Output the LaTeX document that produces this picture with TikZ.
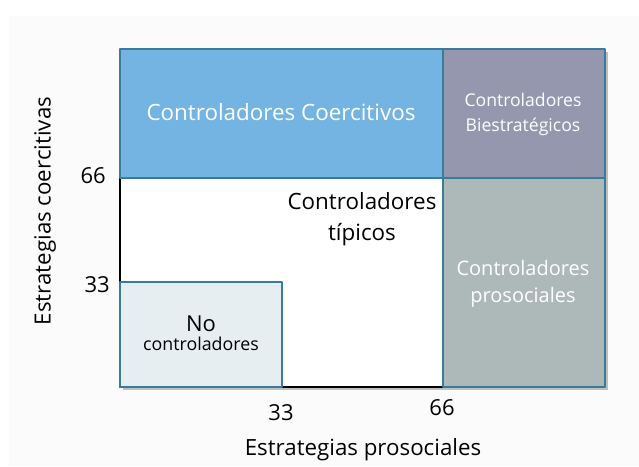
\documentclass[tikz,border=0pt]{standalone}
\usepackage{fontspec}
\setmainfont{Open Sans}
\usetikzlibrary{positioning}
\definecolor{coercblue}{HTML}{74B4E2}
\definecolor{biestr}{HTML}{9497AE}
\definecolor{prosoc}{HTML}{ADB9B8}
\definecolor{nocontr}{HTML}{E6EEF2}
\definecolor{edgeteal}{HTML}{3A7A9A}
\tikzset{
  region/.style={draw=edgeteal, line width=1.2pt},
  lbl/.style={align=center, inner sep=0pt},
  tick/.style={inner sep=0pt, font=\fontsize{22}{25}\selectfont},
  axtitle/.style={inner sep=0pt, font=\fontsize{22.3}{25}\selectfont}
}
\begin{document}
\begin{tikzpicture}[x=1pt, y=-1pt, line join=round]
			\def\xl{120} \def\xm{282} \def\xn{443} \def\xr{605}
			\def\yt{49} \def\yn{178} \def\ym{282} \def\yb{387}
			\useasboundingbox (0,0) rectangle (639,466);
			\fill[white] (0,0) rectangle (639,466);
			\fill[black!1.5] (9,16) rectangle (639,466);
			% shadow
			\fill[black!25] (\xl+3,\yt+3) rectangle (\xr+3,\yb+3);
			\fill[white] (\xl,\yn) rectangle (\xn,\yb);
			% axes
			\draw[line width=2.5pt] (\xl,\yn)--(\xl,\yb)--(\xn,\yb);
			% regions
			\draw[region, fill=coercblue] (\xl,\yt) rectangle (\xn,\yn);
			\draw[region, fill=biestr] (\xn,\yt) rectangle (\xr,\yn);
			\draw[region, fill=prosoc] (\xn,\yn) rectangle (\xr,\yb);
			\draw[region, fill=nocontr] (\xl,\ym) rectangle (\xm,\yb);
			% labels
			\node[lbl, text=white, font=\fontsize{22.4}{26}\selectfont] (coerc) at (281,112) {Controladores Coercitivos};
			\node[lbl, text=white, font=\fontsize{17.6}{25}\selectfont] (bies) at (523,114) {Controladores\\Biestratégicos};
			\node[lbl, font=\fontsize{22.4}{31}\selectfont] (tipic) at (362,219) {Controladores\\típicos};
			\node[lbl, text=white, font=\fontsize{20}{27}\selectfont] (pros) at (523,284) {Controladores\\prosociales};
			\node[lbl, font=\fontsize{22}{24}\selectfont] (no) at (201,324) {No};
			\node[lbl, font=\fontsize{17.8}{20}\selectfont, below=5pt of no.south] (nocon) {controladores};
			% ticks
			\node[tick, anchor=east] (y66) at (106,176) {66};
			\node[tick, anchor=east] (y33) at (110,285) {33};
			\node[tick] (x33) at (281,413) {33};
			\node[tick] (x66) at (442,408) {66};
			% axis titles
			\node[axtitle, rotate=90] (ytit) at (45,211) {Estrategias coercitivas};
			\node[axtitle] (xtit) at (363,450) {Estrategias prosociales};
	\end{tikzpicture}
\end{document}
